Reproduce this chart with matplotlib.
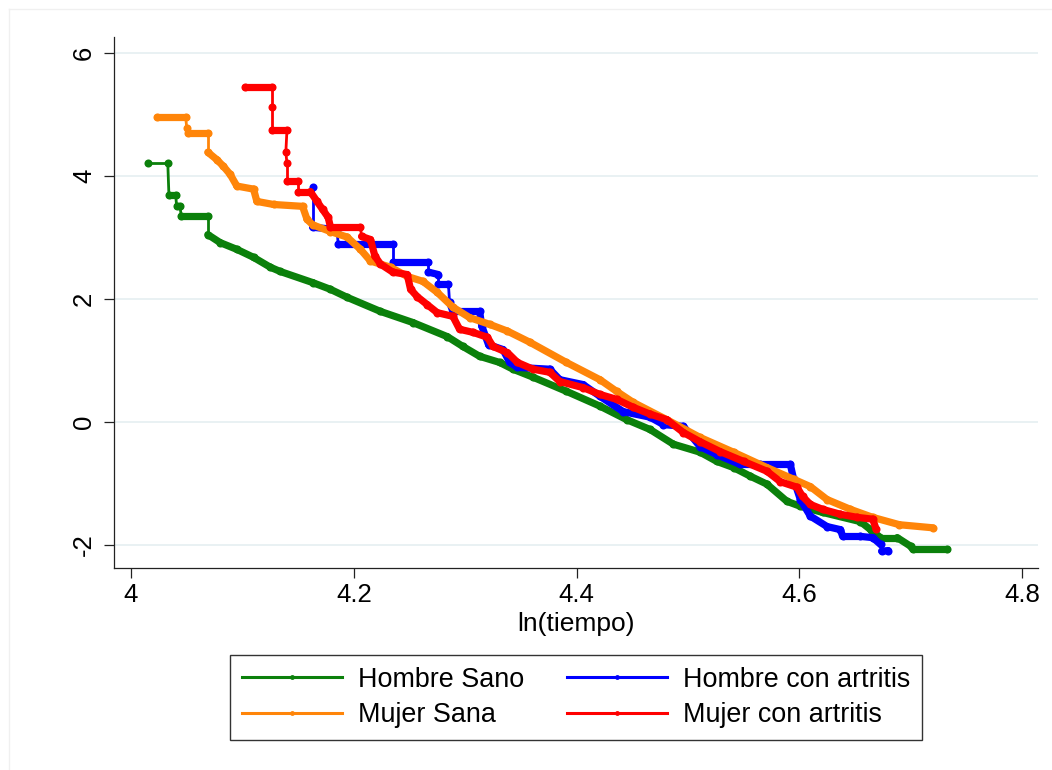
import matplotlib
matplotlib.use("Agg")
import matplotlib.pyplot as plt
from matplotlib.lines import Line2D
from matplotlib.collections import LineCollection

plt.rcParams['font.family'] = ['Liberation Sans', 'DejaVu Sans']

# ---- data: ln(time) vs -ln(-ln(S)) ----
hs_x = [4.015, 4.033, 4.034, 4.040, 4.041, 4.044, 4.045, 4.069, 4.069, 4.080,
        4.095, 4.110, 4.125, 4.134, 4.163, 4.179, 4.194, 4.224, 4.253, 4.284,
        4.298, 4.313, 4.331, 4.343, 4.361, 4.391, 4.421, 4.445, 4.466, 4.487,
        4.511, 4.526, 4.541, 4.556, 4.571, 4.589, 4.601, 4.621, 4.655, 4.664,
        4.673, 4.688, 4.700, 4.702, 4.733]
hs_y = [4.21, 4.21, 3.70, 3.70, 3.51, 3.51, 3.36, 3.36, 3.05, 2.92,
        2.81, 2.68, 2.52, 2.45, 2.27, 2.16, 2.03, 1.80, 1.62, 1.39,
        1.23, 1.07, 0.97, 0.86, 0.73, 0.50, 0.26, 0.04, -0.12, -0.36,
        -0.49, -0.64, -0.74, -0.88, -1.01, -1.29, -1.37, -1.47, -1.62, -1.75,
        -1.88, -1.88, -2.02, -2.07, -2.07]

ms_x = [4.023, 4.049, 4.050, 4.051, 4.069, 4.069, 4.077, 4.083, 4.089, 4.095,
        4.110, 4.113, 4.128, 4.154, 4.158, 4.163, 4.179, 4.194, 4.206, 4.215,
        4.233, 4.248, 4.262, 4.275, 4.289, 4.304, 4.322, 4.338, 4.358, 4.391,
        4.421, 4.436, 4.451, 4.481, 4.511, 4.541, 4.571, 4.595, 4.610, 4.625,
        4.646, 4.666, 4.690, 4.720]
ms_y = [4.97, 4.97, 4.79, 4.71, 4.71, 4.39, 4.27, 4.16, 4.03, 3.84,
        3.79, 3.59, 3.54, 3.51, 3.30, 3.21, 3.10, 3.01, 2.81, 2.62,
        2.52, 2.37, 2.29, 2.11, 1.87, 1.70, 1.59, 1.48, 1.30, 0.97,
        0.69, 0.50, 0.32, 0.04, -0.25, -0.49, -0.74, -0.93, -1.05, -1.26,
        -1.42, -1.55, -1.67, -1.72]

ha_x = [4.163, 4.163, 4.185, 4.186, 4.235, 4.235, 4.267, 4.267, 4.276, 4.276,
        4.285, 4.286, 4.289, 4.313, 4.315, 4.321, 4.334, 4.340, 4.347, 4.376,
        4.385, 4.406, 4.421, 4.442, 4.466, 4.478, 4.496, 4.511, 4.526, 4.547,
        4.565, 4.592, 4.595, 4.601, 4.610, 4.625, 4.637, 4.639, 4.655, 4.666,
        4.673, 4.674, 4.680]
ha_y = [3.83, 3.17, 3.13, 2.89, 2.89, 2.60, 2.60, 2.44, 2.40, 2.24,
        2.24, 1.95, 1.80, 1.80, 1.56, 1.26, 1.18, 0.97, 0.89, 0.86,
        0.69, 0.61, 0.42, 0.17, 0.08, -0.04, -0.07, -0.40, -0.53, -0.69,
        -0.69, -0.69, -0.93, -1.26, -1.53, -1.70, -1.75, -1.86, -1.86, -1.88,
        -1.99, -2.10, -2.09]

ma_x = [4.102, 4.127, 4.127, 4.127, 4.140, 4.139, 4.140, 4.140, 4.150, 4.150,
        4.161, 4.167, 4.172, 4.177, 4.179, 4.206, 4.207, 4.215, 4.219, 4.224,
        4.235, 4.248, 4.251, 4.257, 4.266, 4.275, 4.289, 4.295, 4.307, 4.320,
        4.325, 4.338, 4.347, 4.361, 4.376, 4.385, 4.406, 4.421, 4.436, 4.451,
        4.466, 4.481, 4.496, 4.511, 4.529, 4.550, 4.571, 4.583, 4.598, 4.603,
        4.610, 4.621, 4.637, 4.652, 4.666, 4.669]
ma_y = [5.45, 5.45, 5.12, 4.75, 4.75, 4.39, 4.21, 3.92, 3.92, 3.75,
        3.75, 3.59, 3.46, 3.33, 3.18, 3.18, 3.02, 2.97, 2.70, 2.57,
        2.44, 2.40, 2.16, 2.04, 1.91, 1.78, 1.72, 1.51, 1.46, 1.38,
        1.23, 1.13, 0.97, 0.86, 0.81, 0.66, 0.56, 0.45, 0.37, 0.24,
        0.13, 0.04, -0.17, -0.32, -0.48, -0.64, -0.80, -0.97, -1.06, -1.21,
        -1.34, -1.42, -1.50, -1.55, -1.58, -1.74]

labels = ["Hombre Sano", "Mujer Sana", "Hombre con artritis", "Mujer con artritis"]
x_ticks = [4, 4.2, 4.4, 4.6, 4.8]
x_ticklabels = ["4", "4.2", "4.4", "4.6", "4.8"]
y_ticks = [-2, 0, 2, 4, 6]
y_ticklabels = ["-2", "0", "2", "4", "6"]
x_title = "ln(tiempo)"

colors = {"hs": "#0b800b", "ms": "#ff8509", "ha": "#0000ff", "ma": "#ff0000"}

fig = plt.figure(figsize=(10.52, 7.70), dpi=100)
fig.patch.set_facecolor("white")
ax = fig.add_axes([114/1052, 1-568/770, 924/1052, 531/770])

THICK, THIN = 5.2, 2.0
series = [("hs", hs_x, hs_y), ("ha", ha_x, ha_y), ("ms", ms_x, ms_y), ("ma", ma_x, ma_y)]
for z, (key, xs, ys) in enumerate(series):
    segs = [[(xs[i], ys[i]), (xs[i + 1], ys[i + 1])] for i in range(len(xs) - 1)]
    # vertical (pure step) segments are thin, runs of dense observations are thick
    widths = [THIN if abs(xs[i + 1] - xs[i]) < 0.0015 else THICK for i in range(len(xs) - 1)]
    if key == "hs":
        widths[0] = THIN  # first flat of this curve holds only two observations
    lc = LineCollection(segs, colors=colors[key], linewidths=widths,
                        capstyle="round", joinstyle="round", zorder=3 + z)
    ax.add_collection(lc)
    ax.plot(xs, ys, ls="none", marker="o", ms=5.8, color=colors[key],
            markeredgewidth=0, zorder=3 + z)

ax.set_xlim(3.9847, 4.8144)
ax.set_ylim(-2.374, 6.265)
ax.set_xticks(x_ticks)
ax.set_xticklabels(x_ticklabels)
ax.set_yticks(y_ticks)
ax.set_yticklabels(y_ticklabels, rotation=90, va="center")
ax.tick_params(axis="both", direction="out", length=7, width=0.9, colors="#222222",
               labelsize=18.5, labelcolor="black")
ax.tick_params(axis="x", pad=4)
ax.tick_params(axis="y", pad=6)
for yv in y_ticks:
    ax.axhline(yv, color="#e9f1f3", lw=1.4, zorder=1)
for s in ["top", "right"]:
    ax.spines[s].set_visible(False)
for s in ["left", "bottom"]:
    ax.spines[s].set_color("#222222")
    ax.spines[s].set_linewidth(0.9)

fig.text(576/1052, 1-624/770, x_title, ha="center", va="center", fontsize=19)

handles = [Line2D([], [], color=colors[k], lw=2.2, marker="o", ms=3.5, markeredgewidth=0)
           for k in ["hs", "ms", "ha", "ma"]]
leg = fig.legend(handles, labels, ncol=2, loc="center",
                 bbox_to_anchor=(576/1052, 1-697.5/770), fontsize=19.4,
                 frameon=True, fancybox=False, edgecolor="black",
                 handlelength=3.7, handletextpad=0.6, columnspacing=1.6,
                 labelspacing=0.35, borderpad=0.45)
leg.get_frame().set_linewidth(1.0)

# light outer frame
fig.add_artist(Line2D([9/1052, 1.0], [1-9/770, 1-9/770], color="#f0f0f0", lw=1,
                      transform=fig.transFigure))
fig.add_artist(Line2D([9/1052, 9/1052], [1-9/770, 0], color="#f0f0f0", lw=1,
                      transform=fig.transFigure))

fig.savefig("out.png", dpi=100, facecolor="white")
